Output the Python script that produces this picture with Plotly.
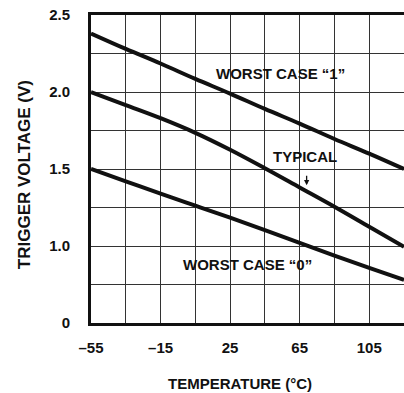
import plotly.graph_objects as go

# Temperature grid (°C) and trigger voltage curves (V)
temperature = [-55, -35, -15, 5, 25, 45, 65, 85, 105, 125]
worst_case_1 = [2.38, 2.28, 2.185, 2.085, 1.99, 1.89, 1.795, 1.695, 1.60, 1.50]
typical = [2.00, 1.915, 1.83, 1.735, 1.625, 1.505, 1.38, 1.255, 1.125, 0.995]
worst_case_0 = [1.50, 1.42, 1.34, 1.262, 1.184, 1.103, 1.02, 0.938, 0.858, 0.78]

# Axis ticks: grid every 20 °C, labels every 40 °C
x_tickvals = [-55, -35, -15, 5, 25, 45, 65, 85, 105, 125]
x_ticktext = ["–55", "", "–15", "", "25", "", "65", "", "105", ""]
# Broken voltage axis: the bottom grid line is labelled 0
y_tickvals = [0.5, 0.75, 1.0, 1.25, 1.5, 1.75, 2.0, 2.25, 2.5]
y_ticktext = ["0", "", "1.0", "", "1.5", "", "2.0", "", "2.5"]

FONT = "Arial, Liberation Sans, sans-serif"
INK = "#111111"

fig = go.Figure()
for name, values in [("WORST CASE “1”", worst_case_1),
                     ("TYPICAL", typical),
                     ("WORST CASE “0”", worst_case_0)]:
    fig.add_trace(go.Scatter(x=temperature, y=values, mode="lines", name=name,
                             line=dict(color=INK, width=4, shape="spline", smoothing=1),
                             showlegend=False))

label_font = dict(family=FONT, size=15, color=INK, weight="bold")
fig.add_annotation(x=54, y=2.12, text="WORST CASE “1”", showarrow=False, font=label_font)
fig.add_annotation(x=68, y=1.584, text="TYPICAL", showarrow=False, font=label_font)
fig.add_annotation(x=35, y=0.877, text="WORST CASE “0”", showarrow=False, font=label_font)
# small pointer below the TYPICAL label
fig.add_annotation(x=69, y=1.395, ax=0, ay=-11, text="", showarrow=True,
                   arrowhead=2, arrowsize=0.8, arrowwidth=1.3, arrowcolor=INK)

fig.add_annotation(xref="paper", yref="paper", x=0.476, y=-0.195,
                   text="TEMPERATURE (°C)", showarrow=False,
                   font=dict(family=FONT, size=15, color=INK, weight="bold"),
                   xanchor="center", yanchor="middle")
fig.add_annotation(xref="paper", yref="paper", x=-0.214, y=0.48,
                   text="TRIGGER VOLTAGE (V)", showarrow=False,
                   font=dict(family=FONT, size=17, color=INK, weight="bold"),
                   textangle=-90, xanchor="center", yanchor="middle")

tick_font = dict(family=FONT, size=15, color=INK, weight="bold")
fig.update_xaxes(range=[-55, 125], tickmode="array", tickvals=x_tickvals,
                 ticktext=x_ticktext, showgrid=True, gridcolor="#333333", gridwidth=1,
                 zeroline=False, showline=True, linecolor=INK, linewidth=2.5,
                 mirror=True, ticks="", ticklabelstandoff=9, tickfont=tick_font)
fig.update_yaxes(range=[0.5, 2.5], tickmode="array", tickvals=y_tickvals,
                 ticktext=y_ticktext, showgrid=True, gridcolor="#333333", gridwidth=1,
                 zeroline=False, showline=True, linecolor=INK, linewidth=3,
                 ticks="", ticklabelstandoff=15, tickfont=tick_font)

fig.update_layout(width=404, height=393,
                  margin=dict(l=91, r=0, t=15, b=70),
                  paper_bgcolor="white", plot_bgcolor="white")

fig.write_html("out.html")
